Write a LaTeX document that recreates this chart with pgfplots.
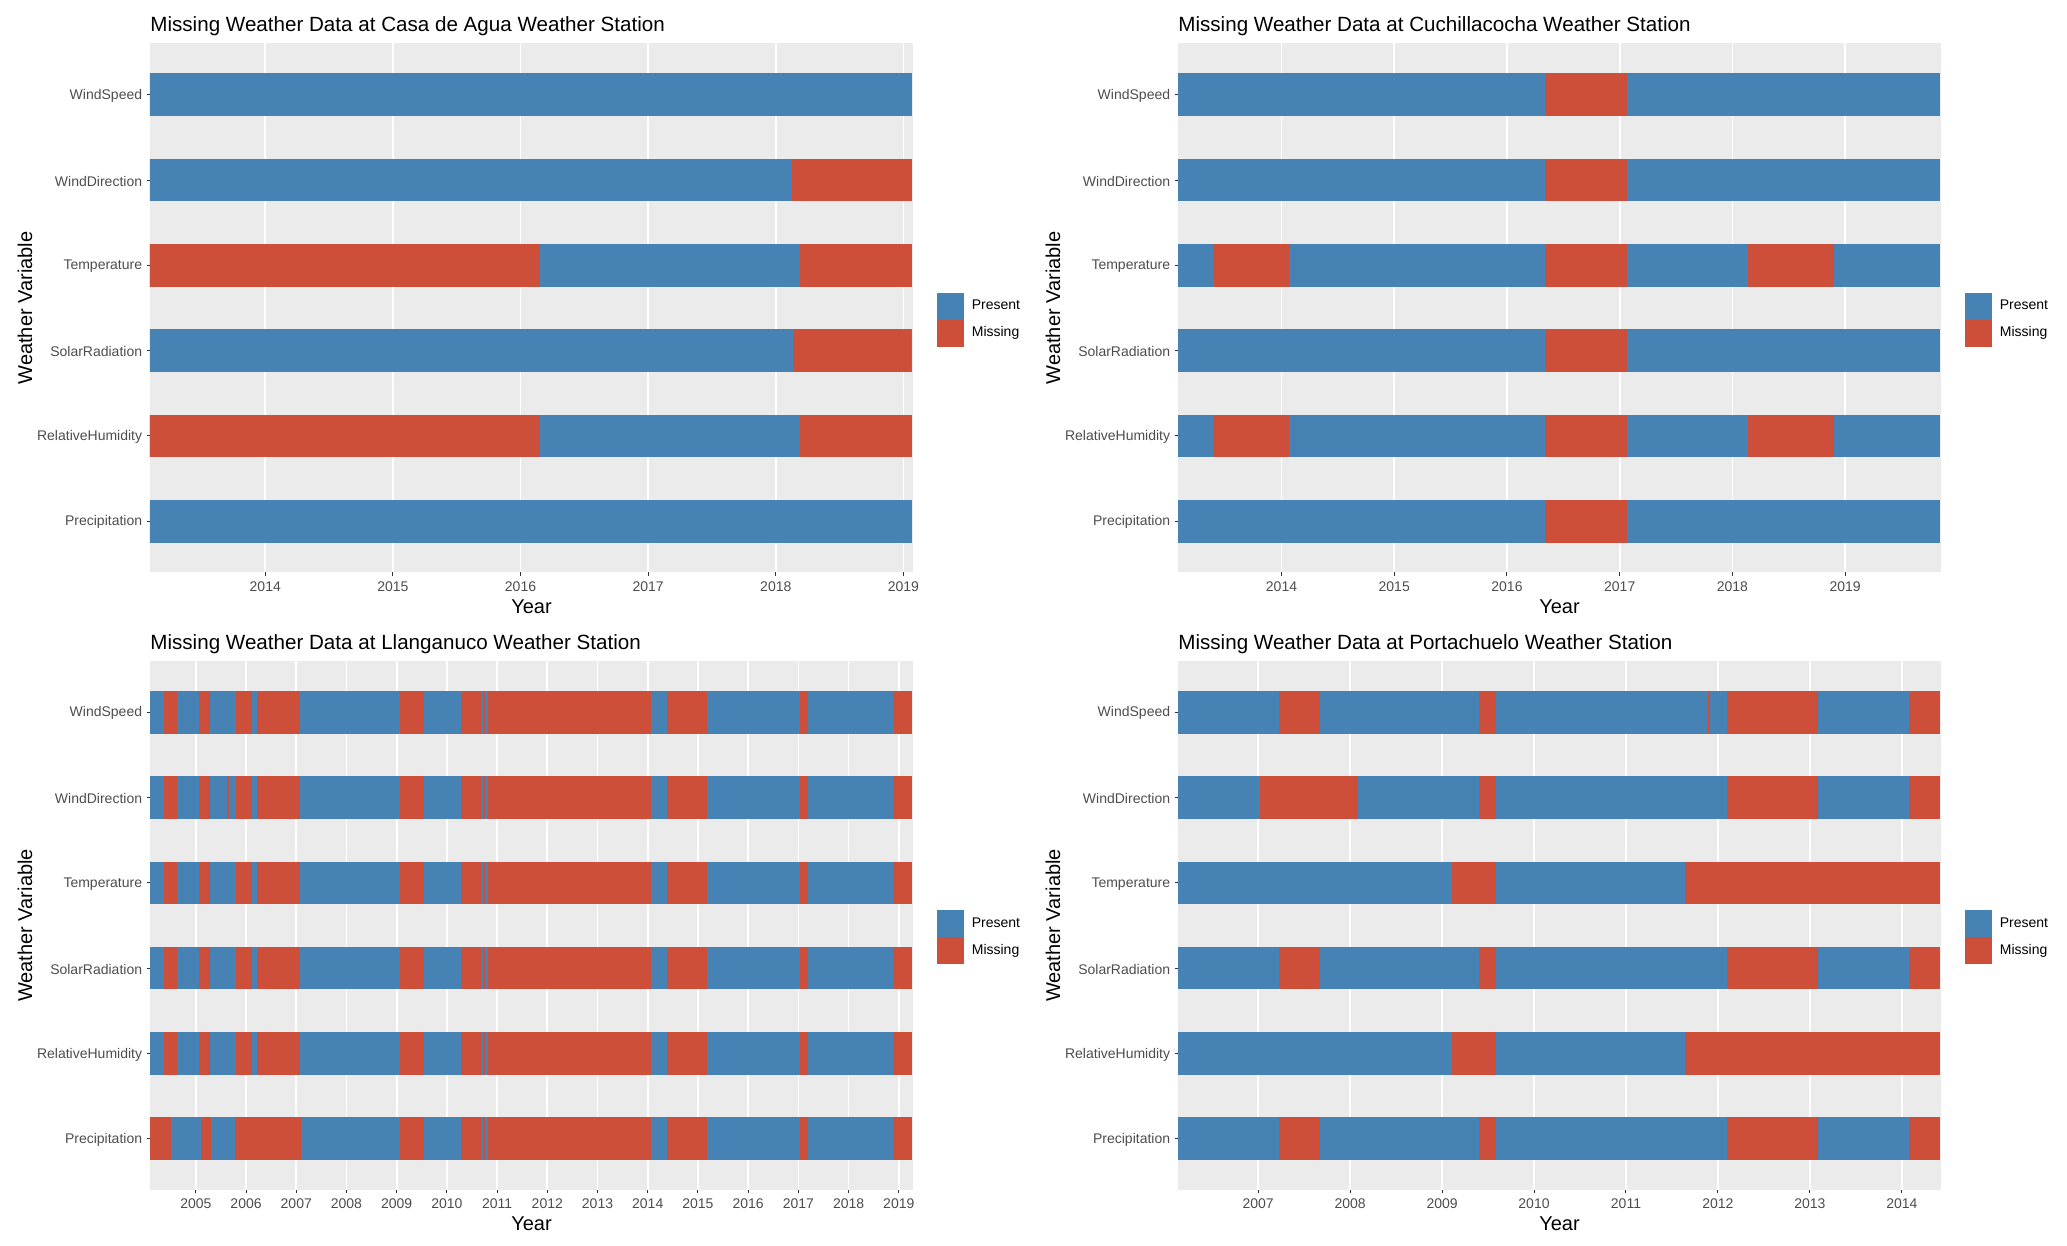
\documentclass[border=0pt]{standalone}
\usepackage{fontspec}
\setmainfont{Liberation Sans}
\usepackage{pgfplots}
\pgfplotsset{compat=1.18}
\usepackage{pgfplotstable}

\definecolor{cblue}{RGB}{70,130,180}
\definecolor{cred}{RGB}{205,79,57}
\definecolor{bggrey}{RGB}{235,235,235}
\definecolor{tickgrey}{RGB}{77,77,77}
\definecolor{tickmark}{RGB}{51,51,51}

\newcommand{\barw}{21.33pt}

% ---------------- Casa de Agua ----------------
\pgfplotstableread{
r s e
1 2013.097 2019.075
2 2013.097 2019.075
3 2013.097 2019.075
4 2013.097 2019.075
5 2013.097 2019.075
6 2013.097 2019.075
}\casaP
\pgfplotstableread{
r s e
5 2018.136 2019.075
4 2013.097 2016.168
4 2018.199 2019.075
3 2018.152 2019.075
2 2013.097 2016.168
2 2018.199 2019.075
}\casaM

% ---------------- Cuchillacocha ----------------
\pgfplotstableread{
r s e
1 2013.082 2019.850
2 2013.082 2019.850
3 2013.082 2019.850
4 2013.082 2019.850
5 2013.082 2019.850
6 2013.082 2019.850
}\cuchP
\pgfplotstableread{
r s e
1 2016.335 2017.059
2 2013.406 2014.071
2 2016.335 2017.059
2 2018.153 2018.912
3 2016.335 2017.059
4 2013.406 2014.071
4 2016.335 2017.059
4 2018.153 2018.912
5 2016.335 2017.059
6 2016.335 2017.059
}\cuchM

% ---------------- Llanganuco ----------------
\pgfplotstableread{
r s e
1 2004.087 2019.283
2 2004.087 2019.283
3 2004.087 2019.283
4 2004.087 2019.283
5 2004.087 2019.283
6 2004.087 2019.283
}\llanP
\pgfplotstableread{
r s e
1 2004.087 2004.512
1 2005.106 2005.312
1 2005.792 2007.094
1 2009.077 2009.557
1 2010.289 2010.683
1 2010.716 2010.769
1 2010.816 2014.060
1 2014.400 2015.194
1 2017.053 2017.213
1 2018.917 2019.283
2 2004.372 2004.632
2 2005.080 2005.286
2 2005.792 2006.111
2 2006.231 2007.094
2 2009.077 2009.557
2 2010.289 2010.683
2 2010.716 2010.769
2 2010.816 2014.060
2 2014.400 2015.194
2 2017.053 2017.213
2 2018.917 2019.283
3 2004.372 2004.632
3 2005.080 2005.286
3 2005.792 2006.111
3 2006.231 2007.094
3 2009.077 2009.557
3 2010.289 2010.683
3 2010.716 2010.769
3 2010.816 2014.060
3 2014.400 2015.194
3 2017.053 2017.213
3 2018.917 2019.283
4 2004.372 2004.632
4 2005.080 2005.286
4 2005.792 2006.111
4 2006.231 2007.094
4 2009.077 2009.557
4 2010.289 2010.683
4 2010.716 2010.769
4 2010.816 2014.060
4 2014.400 2015.194
4 2017.053 2017.213
4 2018.917 2019.283
5 2004.372 2004.632
5 2005.080 2005.286
5 2005.632 2005.672
5 2005.792 2006.111
5 2006.231 2007.094
5 2009.077 2009.557
5 2010.289 2010.683
5 2010.716 2010.769
5 2010.816 2014.060
5 2014.400 2015.194
5 2017.053 2017.213
5 2018.917 2019.283
6 2004.372 2004.632
6 2005.080 2005.286
6 2005.792 2006.111
6 2006.231 2007.094
6 2009.077 2009.557
6 2010.289 2010.683
6 2010.716 2010.769
6 2010.816 2014.060
6 2014.400 2015.194
6 2017.053 2017.213
6 2018.917 2019.283
}\llanM

% ---------------- Portachuelo ----------------
\pgfplotstableread{
r s e
1 2006.128 2014.426
2 2006.128 2014.426
3 2006.128 2014.426
4 2006.128 2014.426
5 2006.128 2014.426
6 2006.128 2014.426
}\portP
\pgfplotstableread{
r s e
1 2007.238 2007.678
1 2009.408 2009.595
1 2012.095 2013.085
1 2014.087 2014.426
2 2009.120 2009.595
2 2011.657 2014.426
3 2007.238 2007.678
3 2009.408 2009.595
3 2012.095 2013.085
3 2014.087 2014.426
4 2009.120 2009.595
4 2011.657 2014.426
5 2007.022 2008.089
5 2009.408 2009.595
5 2012.095 2013.085
5 2014.087 2014.426
6 2007.238 2007.678
6 2009.408 2009.595
6 2011.900 2011.912
6 2012.095 2013.085
6 2014.087 2014.426
}\portM

\pgfplotsset{
  panel/.style={
    scale only axis, width=381.5pt, height=264.5pt,
    ymin=0.4, ymax=6.6,
    ytick={1,2,3,4,5,6},
    yticklabels={Precipitation,RelativeHumidity,SolarRadiation,Temperature,WindDirection,WindSpeed},
    axis x line*=bottom, axis y line*=left,
    axis line style={draw=none},
    axis background/.style={fill=bggrey},
    xmajorgrids, major grid style={white, line width=0.85pt},
    tick align=outside, major tick length=1.75pt,
    tick style={tickmark, line width=0.5pt},
    tick label style={font=\fontsize{7}{8.4}\selectfont, text=tickgrey},
    xticklabel style={inner sep=0pt, anchor=north, yshift=-2.5pt},
    yticklabel style={inner sep=0pt, anchor=east, xshift=-2pt, yshift=-0.5pt},
    scaled x ticks=false,
    /pgf/number format/1000 sep={},
    /pgf/number format/assume math mode=true,
    xlabel={Year}, ylabel={Weather Variable},
    label style={font=\fontsize{7.7}{9.2}\selectfont},
    every axis x label/.style={at={(axis description cs:0.5,0)}, anchor=center, yshift=-17pt},
    every axis y label/.style={at={(axis description cs:-0.1638,0.5)}, anchor=center, rotate=90},
    every axis title/.style={at={(axis description cs:0,1)}, anchor=base west, inner sep=0pt, yshift=5.75pt, font=\fontsize{10.3}{12}\selectfont},
    legend style={at={(axis description cs:1.031,0.478)}, anchor=west, draw=none, fill=none,
      inner sep=0pt, row sep=0pt, nodes={inner sep=0pt, outer sep=0pt},
      font=\fontsize{7}{8.4}\selectfont, cells={anchor=west},
      /tikz/every odd column/.style={column sep=4pt}},
  },
  seg/.style={forget plot, draw=none, mark=none,
    error bars/x dir=both, error bars/x explicit, error bars/error mark=none,
    error bars/error bar style={draw=#1, line width=\barw, line cap=butt}},
  presentkey/.style={legend image code/.code={\fill[cblue] (0pt,-6.5pt) rectangle (13pt,6.5pt);}},
  missingkey/.style={legend image code/.code={\fill[cred] (0pt,-6.5pt) rectangle (13pt,6.5pt);}},
}

\newcommand{\segs}[2]{\addplot[seg=#1] table[x expr={(\thisrow{s}+\thisrow{e})/2}, y=r, x error expr={(\thisrow{e}-\thisrow{s})/2}] {#2};}
\newcommand{\keys}{%
  \addlegendimage{presentkey}\addlegendentry{Present}
  \addlegendimage{missingkey}\addlegendentry{Missing}}

\begin{document}
\begin{tikzpicture}[x=1pt,y=1pt]
\useasboundingbox (0,0) rectangle (1033.5,623);

\begin{axis}[panel, at={(75pt,336.75pt)}, anchor=south west,
  xmin=2013.097, xmax=2019.075, xtick={2014,2015,2016,2017,2018,2019},
  title={Missing Weather Data at Casa de Agua Weather Station}]
\segs{cblue}{\casaP}
\segs{cred}{\casaM}
\keys
\end{axis}

\begin{axis}[panel, at={(589pt,336.75pt)}, anchor=south west,
  xmin=2013.082, xmax=2019.850, xtick={2014,2015,2016,2017,2018,2019},
  title={Missing Weather Data at Cuchillacocha Weather Station}]
\segs{cblue}{\cuchP}
\segs{cred}{\cuchM}
\keys
\end{axis}

\begin{axis}[panel, at={(75pt,28pt)}, anchor=south west,
  xmin=2004.087, xmax=2019.283, xtick={2005,2006,...,2019},
  title={Missing Weather Data at Llanganuco Weather Station}]
\segs{cblue}{\llanP}
\segs{cred}{\llanM}
\keys
\end{axis}

\begin{axis}[panel, at={(589pt,28pt)}, anchor=south west,
  xmin=2006.128, xmax=2014.426, xtick={2007,2008,...,2014},
  title={Missing Weather Data at Portachuelo Weather Station}]
\segs{cblue}{\portP}
\segs{cred}{\portM}
\keys
\end{axis}
\end{tikzpicture}
\end{document}
